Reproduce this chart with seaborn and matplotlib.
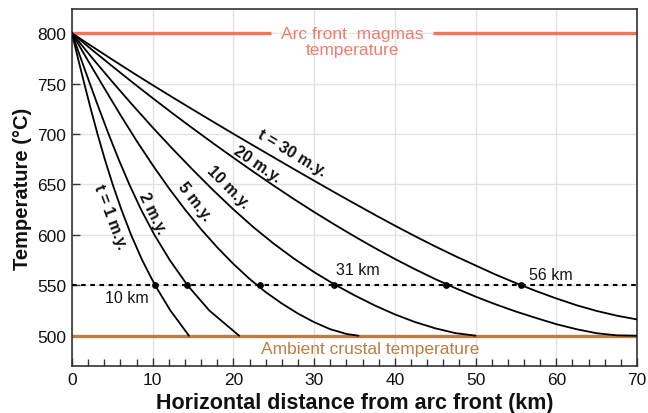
import matplotlib
matplotlib.use("Agg")
import matplotlib.pyplot as plt
import seaborn as sns
import pandas as pd
from matplotlib.ticker import MultipleLocator

# ---- data ----
# t = 1 m.y. (x in km, T in deg C)
t1_x = [0, 0.75, 1.53, 2.33, 3.17, 4.07, 5.05, 6.13, 7.33, 8.70, 10.30, 12.20, 14.50]
t1_T = [800, 775, 750, 725, 700, 675, 650, 625, 600, 575, 550, 525, 500]

# t = 2 m.y.
t2_x = [0, 1.10, 2.22, 3.36, 4.54, 5.78, 7.11, 8.57, 10.22, 12.12, 14.32, 17.02, 20.72]
t2_T = [800, 775, 750, 725, 700, 675, 650, 625, 600, 575, 550, 525, 500]

# t = 5 m.y.
t5_x = [0, 2, 4, 6, 8, 10, 12, 14, 16, 18, 20, 22, 24, 26, 28, 30, 32, 34, 35.5]
t5_T = [800, 772.6, 745.6, 719.0, 693.4, 669.2, 646.4, 625.2, 605.6, 587.6, 571.2,
        556.4, 543.3, 532.0, 522.0, 513.5, 506.5, 501.8, 500.0]

# t = 10 m.y.
t10_x = [0, 2.5, 5, 7.5, 10, 12.5, 15, 17.5, 20, 22.5, 25, 27.5, 30, 32.5, 35,
         37.5, 40, 42.5, 45, 47.5, 50]
t10_T = [800, 775.5, 751.8, 728.8, 706.5, 685.0, 664.3, 644.3, 625.3, 607.5, 591.3,
         576.5, 563.1, 551.0, 540.1, 530.1, 521.2, 513.6, 507.4, 502.6, 500.1]

# t = 20 m.y.
t20_x = [0, 2.5, 5, 7.5, 10, 12.5, 15, 17.5, 20, 22.5, 25, 27.5, 30, 32.5, 35,
         37.5, 40, 42.5, 45, 47.5, 50, 52.5, 55, 57.5, 60, 62.5, 65, 67.5, 70]
t20_T = [800, 783.4, 767.2, 751.2, 735.6, 720.3, 705.4, 690.8, 676.5, 662.5, 648.8,
         635.5, 622.7, 610.4, 598.5, 587.1, 576.2, 565.9, 556.2, 547.2, 538.8,
         531.1, 524.0, 517.6, 511.5, 506.5, 502.5, 500.4, 500.0]

# t = 30 m.y.
t30_x = [0, 2.5, 5, 7.5, 10, 12.5, 15, 17.5, 20, 22.5, 25, 27.5, 30, 32.5, 35,
         37.5, 40, 42.5, 45, 47.5, 50, 52.5, 55, 57.5, 60, 62.5, 65, 67.5, 70]
t30_T = [800, 786.8, 773.8, 761.0, 748.5, 736.2, 724.1, 712.1, 700.2, 688.5, 676.8,
         665.2, 653.7, 642.3, 631.1, 620.0, 609.2, 598.7, 588.6, 578.9, 569.7,
         560.6, 552.2, 544.3, 537.0, 530.3, 524.6, 519.9, 516.2]

dots_x = [10.3, 14.3, 23.3, 32.5, 46.4, 55.6]
dots_T = [550, 550, 550, 550, 550, 550]

curve_names = ["t = 1 m.y.", "2 m.y.", "5 m.y.", "10 m.y.", "20 m.y.", "t = 30 m.y."]
magma_T = 800
ambient_T = 500
ref_T = 550
dist_labels = ["10 km", "31 km", "56 km"]

# ---- build table ----
frames = []
for name, xs, ts in zip(curve_names,
                        [t1_x, t2_x, t5_x, t10_x, t20_x, t30_x],
                        [t1_T, t2_T, t5_T, t10_T, t20_T, t30_T]):
    frames.append(pd.DataFrame({"x": xs, "T": ts, "curve": name}))
df = pd.concat(frames, ignore_index=True)
dots = pd.DataFrame({"x": dots_x, "T": dots_T})

sns.set_theme(style="whitegrid")
plt.rcParams["font.family"] = ["Liberation Sans", "DejaVu Sans"]

fig = plt.figure(figsize=(6.48, 4.14), dpi=100)
ax = fig.add_axes([0.111, 0.1135, 0.872, 0.8625])
ax.set_facecolor("white")

red = "#f3735f"
red_text = "#f07c6c"
brown = "#b97d45"

# reference lines
ax.plot([0, 24.6], [magma_T, magma_T], color=red, lw=2.4, zorder=2,
        solid_capstyle="butt")
ax.plot([44.7, 70], [magma_T, magma_T], color=red, lw=2.4, zorder=2,
        solid_capstyle="butt")
ax.axhline(ambient_T, color=brown, lw=2.4, zorder=2)
ax.axhline(ref_T, color="black", lw=1.5, ls=(0, (2.2, 2.2)), zorder=3)

sns.lineplot(data=df, x="x", y="T", units="curve", estimator=None, sort=False,
             color="black", lw=1.3, ax=ax, zorder=4)
sns.scatterplot(data=dots, x="x", y="T", color="black", s=24, ax=ax, zorder=5,
                edgecolor="black", linewidth=0)

# curve labels
lab_pos = [(4.8, 619, -69), (10.0, 622.5, -64), (15.2, 634, -52),
           (19.3, 648, -45), (22.9, 670.5, -34), (27.3, 681.5, -31)]
for name, (lx, ly, rot) in zip(curve_names, lab_pos):
    ax.text(lx, ly, name, rotation=rot, rotation_mode="anchor", ha="center",
            va="center", fontsize=11.5, fontweight="bold", color="#111111", zorder=6)

ax.text(6.8, 537.5, dist_labels[0], ha="center", va="center", fontsize=11.5, color="#111111")
ax.text(35.4, 566, dist_labels[1], ha="center", va="center", fontsize=11.5, color="#111111")
ax.text(59.3, 561, dist_labels[2], ha="center", va="center", fontsize=11.5, color="#111111")

ax.text(34.7, 792, "Arc front  magmas\ntemperature", ha="center", va="center",
        fontsize=12.5, color=red_text, linespacing=1.05)
ax.text(37.0, 487, "Ambient crustal temperature", ha="center", va="center",
        fontsize=12.5, color=brown)

ax.set_xlim(0, 70)
ax.set_ylim(470, 824)
ax.xaxis.set_major_locator(MultipleLocator(10))
ax.xaxis.set_minor_locator(MultipleLocator(2))
ax.set_yticks([500, 550, 600, 650, 700, 750, 800])

ax.grid(True, which="major", color="#e2e2e2", lw=1.0)
ax.grid(False, which="minor")
ax.set_axisbelow(True)

for s in ax.spines.values():
    s.set_visible(True)
    s.set_color("#333333")
    s.set_linewidth(1.2)

ax.tick_params(axis="both", which="major", direction="in", length=6, width=1,
               color="#333333", labelsize=12.5, labelcolor="#111111", pad=4)
ax.tick_params(axis="x", which="minor", direction="in", length=5, width=1,
               color="#333333", bottom=True)
ax.tick_params(axis="x", which="major", bottom=True)
ax.tick_params(axis="y", which="major", left=True)

ax.set_xlabel("Horizontal distance from arc front (km)", fontsize=15.5,
              fontweight="bold", color="#111111", labelpad=4)
ax.set_ylabel("Temperature (°C)", fontsize=14.5, fontweight="bold",
              color="#111111", labelpad=4)
leg = ax.get_legend()
if leg is not None:
    leg.remove()

fig.savefig("out.png", dpi=100, facecolor="white")
